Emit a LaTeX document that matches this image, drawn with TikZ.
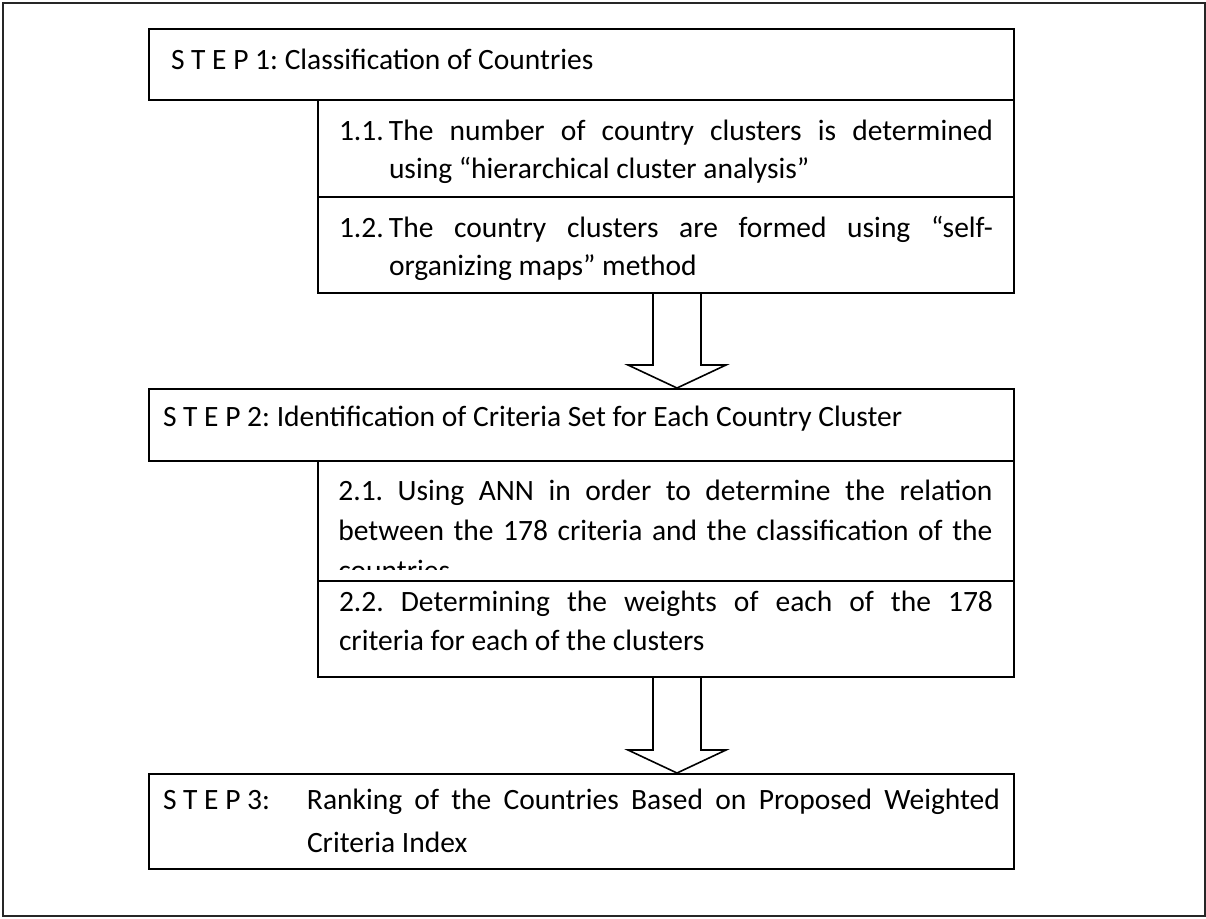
\documentclass[tikz,border=0pt]{standalone}
\usepackage{fontspec}
\setmainfont{Carlito}
\usetikzlibrary{calc}

% box text: width, height, first baseline, line skip, text
\newcommand{\boxpar}[5]{\parbox[c][#2][t]{#1}{\fontsize{14.75pt}{#4}\selectfont
  \frenchspacing\tolerance=9999\hyphenpenalty=10000\rule{0pt}{#3}#5}}

% hollow block arrow from a box bottom down to the tip
\newcommand{\blockarrow}[2]{%
  \draw[blockarr] ($(#1)+(-24,0)$) -- ($(#2)+(-24,-23)$) -- ($(#2)+(-49,-23)$)
    -- (#2) -- ($(#2)+(49,-23)$) -- ($(#2)+(24,-23)$) -- ($(#1)+(24,0)$);}

\tikzset{
  stepbox/.style={draw, line width=1pt, fill=white, anchor=north west,
    inner xsep=7pt, inner ysep=0pt, minimum width=432.5pt},
  subbox/.style={draw, line width=1pt, fill=white, anchor=north west,
    inner xsep=10.5pt, inner ysep=0pt, minimum width=348pt},
  blockarr/.style={draw, line width=0.8pt, fill=white, line join=miter},
  frame/.style={draw=black!85, line width=0.9pt},
}

\begin{document}
\begin{tikzpicture}[x=0.5pt, y=-0.5pt]
  \useasboundingbox (0,0) rectangle (1206,918);
  \draw[frame] (3,3) rectangle (1205,916);

  % Step 1
  \node[stepbox] (step1) at (148,28)
    {\boxpar{418.5pt}{35.5pt}{20pt}{19pt}{\hspace*{4pt}S T E P 1: Classification of Countries}};
  \node[subbox] (sub11) at (317,99)
    {\boxpar{327pt}{48.5pt}{20pt}{19pt}{\hangindent=25pt\hangafter=1
      \makebox[25pt][l]{1.1.}The number of country clusters is determined\linebreak
      using “hierarchical cluster analysis”}};
  \node[subbox] (sub12) at (317,196)
    {\boxpar{327pt}{48pt}{20pt}{19pt}{\hangindent=25pt\hangafter=1
      \makebox[25pt][l]{1.2.}The country clusters are formed using “self-\linebreak
      organizing maps” method}};

  % Step 2
  \node[stepbox] (step2) at (148,388)
    {\boxpar{418.5pt}{36pt}{18.5pt}{19pt}{S T E P 2: Identification of Criteria Set for Each Country Cluster}};
  \node[subbox, minimum height=60pt] (sub21) at (317,460) {};
  \begin{scope}
    \clip (sub21.north west) rectangle ($(sub21.south east)+(0,-13)$);
    \node[anchor=north west, inner xsep=10.5pt, inner ysep=0pt] (sub21txt) at (sub21.north west)
      {\boxpar{327pt}{60pt}{20pt}{20pt}{2.1. Using ANN in order to determine the relation\linebreak
        between the 178 criteria and the classification of the\linebreak countries}};
  \end{scope}
  \node[subbox] (sub22) at (317,580)
    {\boxpar{327pt}{48pt}{15pt}{19.5pt}{2.2. Determining the weights of each of the 178\linebreak
      criteria for each of the clusters}};

  % Step 3
  \node[stepbox] (step3) at (148,773)
    {\boxpar{418.5pt}{47.5pt}{17.5pt}{21.5pt}{\hangindent=72pt\hangafter=1
      \makebox[72pt][l]{S T E P 3:}Ranking of the Countries Based on Proposed Weighted\linebreak
      Criteria Index}};

  % Arrows
  \coordinate (ax) at (677,0);
  \coordinate (a1top) at (sub12.south -| ax);
  \coordinate (a1tip) at (step2.north -| ax);
  \coordinate (a2top) at (sub22.south -| ax);
  \coordinate (a2tip) at (step3.north -| ax);
  \blockarrow{a1top}{a1tip}
  \blockarrow{a2top}{a2tip}
\end{tikzpicture}
\end{document}
